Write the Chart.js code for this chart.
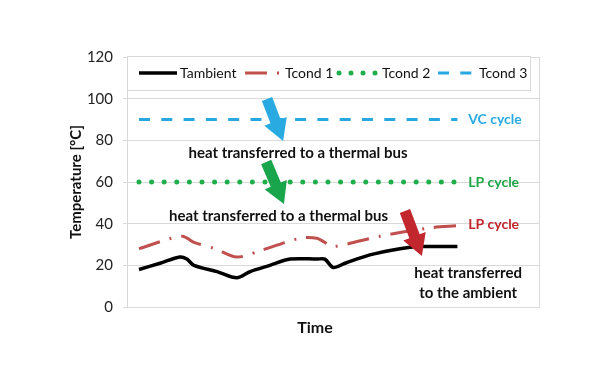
<!DOCTYPE html>
<html lang="en">
<head>
    <meta charset="UTF-8">
    <title>Temperature vs time</title>
    <script src="https://cdn.jsdelivr.net/npm/chart.js"></script>
    <style>
        html, body { margin: 0; padding: 0; background: #fff; }
        #wrap { width: 600px; height: 389px; }
    </style>
</head>
<body>
    <div id="wrap"><canvas id="tempChart"></canvas></div>

    <script>
        // time positions (0-100 across the plot, no ticks shown)
        const ambientTime = [2.9, 8, 12.8, 14.5, 16.2, 21.8, 26.6, 29.8, 34.6, 39.5, 46, 47.9, 49.9, 52.8, 58.8, 66.1, 70.9, 80];
        const ambientTemp = [18, 21, 24, 23, 20, 17, 14, 17, 20, 23, 23, 23, 19, 21, 25, 28, 29, 29];

        const cond1Time = [2.9, 13.3, 16.2, 21.3, 26.6, 32.2, 41.9, 46, 47.9, 49.9, 61.3, 73.4, 80];
        const cond1Temp = [28, 34, 31, 28, 24, 27, 33, 33, 31, 29, 34, 38, 39];

        const cond2Time = [2.9, 80];
        const cond2Temp = [60, 60];

        const cond3Time = [2.9, 80];
        const cond3Temp = [90, 90];

        const yTicks = [0, 20, 40, 60, 80, 100, 120];

        const FONT = "Lato, 'Open Sans', sans-serif";

        function pts(xs, ys) {
            return xs.map((x, i) => ({ x: x, y: ys[i] }));
        }

        // arrows and notes, in data units (time, temperature)
        const arrows = [
            { from: [33.9, 99.8], to: [37.8, 79.7], color: "#29abe2" },
            { from: [33.7, 69.6], to: [38.0, 49.4], color: "#19a54b" },
            { from: [67.3, 46.1], to: [71.4, 24.5], color: "#c1272d" }
        ];
        const notes = [
            { text: "VC cycle", at: [82.6, 90.2], color: "#29abe2", bold: false, align: "left" },
            { text: "LP cycle", at: [82.6, 60], color: "#1fa84a", bold: false, align: "left" },
            { text: "LP cycle", at: [82.6, 39.4], color: "#c1272d", bold: false, align: "left" },
            { text: "heat transferred to a thermal bus", at: [41.4, 73.9], color: "#111", bold: true, align: "center" },
            { text: "heat transferred to a thermal bus", at: [36.7, 43.7], color: "#111", bold: true, align: "center" },
            { text: "heat transferred", at: [82.6, 16.3], color: "#111", bold: true, align: "center" },
            { text: "to the ambient", at: [82.6, 6.7], color: "#111", bold: true, align: "center" }
        ];

        function drawArrow(ctx, x1, y1, x2, y2, color) {
            const ang = Math.atan2(y2 - y1, x2 - x1);
            const len = Math.hypot(x2 - x1, y2 - y1);
            const headLen = 21, shaft = 5.5, head = 12;
            ctx.save();
            ctx.translate(x1, y1);
            ctx.rotate(ang);
            ctx.beginPath();
            ctx.moveTo(0, -shaft);
            ctx.lineTo(len - headLen, -shaft);
            ctx.lineTo(len - headLen, -head);
            ctx.lineTo(len, 0);
            ctx.lineTo(len - headLen, head);
            ctx.lineTo(len - headLen, shaft);
            ctx.lineTo(0, shaft);
            ctx.closePath();
            ctx.fillStyle = color;
            ctx.fill();
            ctx.restore();
        }

        const extras = {
            id: "extras",
            beforeDatasetsDraw(chart) {
                const { ctx, chartArea: a } = chart;
                ctx.save();
                ctx.strokeStyle = "#d9d9d9";
                ctx.lineWidth = 1;
                ctx.strokeRect(a.left + 0.5, a.top + 0.5, a.right - a.left - 1, a.bottom - a.top);
                ctx.restore();
            },
            afterDraw(chart) {
                const { ctx, chartArea: a, scales } = chart;
                const sx = v => scales.x.getPixelForValue(v);
                const sy = v => scales.y.getPixelForValue(v);

                // legend box
                ctx.save();
                ctx.fillStyle = "#fff";
                ctx.strokeStyle = "#d9d9d9";
                ctx.lineWidth = 1;
                ctx.fillRect(a.left, a.top - 1, 403, 34);
                ctx.strokeRect(a.left + 0.5, a.top - 0.5, 403, 34);

                const ly = a.top + 16;
                const items = [
                    { x: 12, w: 38, tx: 53 },
                    { x: 118, w: 36, tx: 158 },
                    { x: 212, w: 41, tx: 255 },
                    { x: 311, w: 36, tx: 352 }
                ];
                chart.data.datasets.forEach((ds, i) => {
                    const it = items[i];
                    ctx.save();
                    ctx.strokeStyle = ds.borderColor;
                    ctx.lineWidth = ds.borderWidth;
                    ctx.lineCap = ds.borderCapStyle || "butt";
                    ctx.setLineDash(ds.legendDash || ds.borderDash || []);
                    ctx.beginPath();
                    ctx.moveTo(a.left + it.x, ly);
                    ctx.lineTo(a.left + it.x + it.w, ly);
                    ctx.stroke();
                    ctx.restore();
                    ctx.fillStyle = "#111";
                    ctx.font = "14px " + FONT;
                    ctx.textAlign = "left";
                    ctx.textBaseline = "middle";
                    ctx.fillText(ds.label, a.left + it.tx, ly);
                });

                // arrows
                arrows.forEach(ar => drawArrow(ctx, sx(ar.from[0]), sy(ar.from[1]), sx(ar.to[0]), sy(ar.to[1]), ar.color));

                // notes
                notes.forEach(n => {
                    ctx.fillStyle = n.color;
                    ctx.font = (n.bold ? "bold 15px " : "bold 14px ") + FONT;
                    ctx.textAlign = n.align;
                    ctx.textBaseline = "middle";
                    ctx.fillText(n.text, sx(n.at[0]), sy(n.at[1]));
                });

                // axis title for time
                ctx.fillStyle = "#111";
                ctx.font = "bold 16px " + FONT;
                ctx.textAlign = "center";
                ctx.fillText("Time", 315, 328);
                ctx.restore();
            }
        };

        new Chart(document.getElementById("tempChart"), {
            type: "line",
            data: {
                datasets: [
                    {
                        label: "Tambient",
                        data: pts(ambientTime, ambientTemp),
                        borderColor: "#000",
                        borderWidth: 3.5,
                        tension: 0.3,
                        pointRadius: 0
                    },
                    {
                        label: "Tcond 1",
                        data: pts(cond1Time, cond1Temp),
                        borderColor: "#c0504d",
                        borderWidth: 3,
                        borderDash: [22, 10, 2, 10],
                        tension: 0.3,
                        pointRadius: 0
                    },
                    {
                        label: "Tcond 2",
                        data: pts(cond2Time, cond2Temp),
                        borderColor: "#1fae4b",
                        borderWidth: 5,
                        borderCapStyle: "round",
                        borderDash: [0, 12.6],
                        legendDash: [0, 12],
                        pointRadius: 0
                    },
                    {
                        label: "Tcond 3",
                        data: pts(cond3Time, cond3Temp),
                        borderColor: "#29a8e0",
                        borderWidth: 3,
                        borderDash: [11, 11.3],
                        pointRadius: 0
                    }
                ]
            },
            options: {
                responsive: true,
                maintainAspectRatio: false,
                animation: false,
                layout: { padding: { top: 57, right: 60, bottom: 82, left: 67 } },
                plugins: {
                    legend: { display: false },
                    tooltip: { enabled: false }
                },
                scales: {
                    x: {
                        type: "linear",
                        min: 0,
                        max: 100,
                        display: false
                    },
                    y: {
                        min: 0,
                        max: 120,
                        afterBuildTicks: s => { s.ticks = yTicks.map(v => ({ value: v })); },
                        afterFit: s => { s.width = 60; },
                        grid: { color: "#d9d9d9", tickLength: 4 },
                        border: { display: false },
                        ticks: {
                            padding: 10,
                            color: "#222",
                            font: { family: FONT, size: 15 }
                        },
                        title: {
                            display: true,
                            text: "Temperature [°C]",
                            color: "#111",
                            font: { family: FONT, size: 15, weight: "bold" },
                            padding: 0
                        }
                    }
                }
            },
            plugins: [extras]
        });
    </script>
</body>
</html>
